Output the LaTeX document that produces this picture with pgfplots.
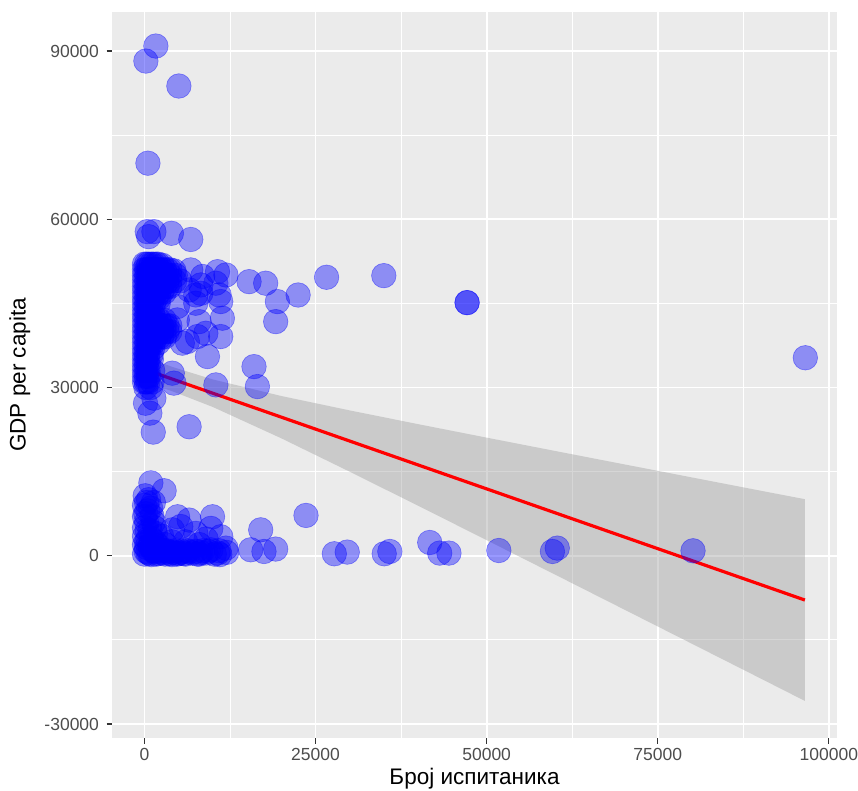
\documentclass[border=0pt]{standalone}
\usepackage{fontspec}
\setmainfont{Liberation Sans}
\usepackage{pgfplots}
\pgfplotsset{compat=1.18}
\definecolor{panelbg}{HTML}{EBEBEB}
\definecolor{grey30}{HTML}{4D4D4D}
\definecolor{grey20}{HTML}{333333}
\definecolor{grey60}{HTML}{999999}
\begin{document}
\begin{tikzpicture}
\begin{axis}[
  scale only axis, width=725pt, height=726pt,
  xmin=-4750, xmax=101200, ymin=-32490, ymax=96960,
  scaled ticks=false,
  axis background/.style={fill=panelbg},
  axis line style={draw=none},
  grid=both,
  major grid style={white, line width=1.7pt},
  minor grid style={white, line width=0.85pt},
  xtick={0,25000,50000,75000,100000},
  xticklabels={0,25000,50000,75000,100000},
  ytick={-30000,0,30000,60000,90000},
  yticklabels={-30000,0,30000,60000,90000},
  minor xtick={12500,37500,62500,87500},
  minor ytick={-15000,15000,45000,75000},
  minor tick length=0pt,
  tick align=outside, major tick length=5.5pt,
  tick style={grey20, line width=1.1pt},
  xtick pos=bottom, ytick pos=left,
  ticklabel style={font=\fontsize{17.5}{20}\selectfont, text=grey30},
  xticklabel style={yshift=-1.5pt},
  yticklabel style={xshift=-4pt},
  xlabel={Број испитаника}, ylabel={GDP per capita},
  label style={font=\fontsize{22.5}{26}\selectfont},
  xlabel style={at={(axis description cs:0.5,-0.0555)}, anchor=center},
  ylabel style={at={(axis description cs:-0.127,0.5)}, anchor=center},
  clip=true,
]
\addplot[only marks, mark=*, mark size=12.3pt,
  mark options={fill=blue, draw=blue, fill opacity=0.4, draw opacity=0.4, line width=0.6pt}]
coordinates {
(200,88210) (1660,90890) (5020,83760) (500,70000)
(400,57800) (1370,57800) (3930,57500) (6760,56400) (600,56900)
(0,52000) (600,52000) (1300,52000) (2000,52000) (300,52000) (1000,52000) (1700,52000) (2600,51800)
(0,51000) (600,51000) (1300,51000) (2100,51000) (2900,51000) (3700,51000) (300,51000) (1000,51000) (1700,51000) (2500,51000) (3300,51000) (4300,50800)
(0,50000) (600,50000) (1300,50000) (2100,50000) (2900,50000) (3700,50000) (4500,50000) (300,50000) (1000,50000) (1700,50000) (2500,50000) (3300,50000)
(0,49000) (600,49000) (1300,49000) (2100,49000) (2900,49000) (3700,49000) (5200,49000) (300,49000) (1000,49000) (1700,49000) (2500,49000) (3300,49000) (4400,49000)
(0,48000) (600,48000) (1300,48000) (2100,48000) (2900,48000) (3700,48000) (300,48000) (1000,48000) (1700,48000) (2500,48000) (3300,48000)
(0,47000) (600,47000) (1300,47000) (2100,47000) (2900,47000) (300,47000) (1000,47000) (1700,47000) (2500,47000)
(0,46000) (600,46000) (1300,46000) (2100,46000) (300,46000) (1000,46000) (1700,46000)
(0,45000) (600,45000) (1300,45000) (2000,45000) (300,45000) (1000,45000)
(0,44000) (600,44000) (1200,44000) (300,44000)
(0,43000) (600,43000) (1200,43000) (300,43000)
(0,42000) (600,42000) (1300,42000) (2100,42000) (2900,42000) (300,42000) (1000,42000) (1700,42000)
(0,41000) (600,41000) (1300,41000) (2100,41000) (2900,41000) (3700,41000) (300,41000) (1000,41000) (1700,41000) (2500,41000) (3300,41000)
(0,40000) (600,40000) (1300,40000) (2100,40000) (2900,40000) (3700,40000) (300,40000) (1000,40000) (1700,40000) (2500,40000) (3300,40000)
(0,39000) (600,39000) (1300,39000) (2100,39000) (2900,39000) (300,39000) (1000,39000) (1700,39000) (2500,39000)
(0,38000) (600,38000) (1300,38000) (2000,38000) (300,38000) (1000,38000)
(0,37000) (600,37000) (1200,37000) (300,37000)
(0,36000) (500,36000) (1000,36000) (250,36000)
(0,35000) (500,35000) (1000,35000) (250,35000)
(0,34000) (600,34000) (300,34000)
(0,33000) (500,33000) (1200,33000) (250,33000)
(0,32000) (600,32000) (300,32000)
(0,31000) (500,31000) (1100,31000) (250,31000)
(200,30000) (900,30000)
(150,27200) (1370,28100) (780,25430) (1280,22050) (6520,23010)
(6760,50970) (8500,49800) (10670,50660) (11900,50070)
(15280,48880) (17710,48600) (19420,45320) (22450,46500) (19170,41750)
(8230,48290) (10900,46510) (7490,46510) (4800,42050) (7980,41750)
(11380,42360) (11140,39090) (9200,35520) (7740,39090) (5530,37910)
(16000,33730) (16500,30170) (10430,30470) (4060,32560) (4300,30780)
(6530,47400) (8230,46800) (7490,45030) (4800,44440) (10430,48600)
(11140,45330) (8960,39680) (6270,38200)
(26610,49660) (34970,49950) (47140,45140) (47140,45140)
(96570,35310)
(930,13000) (2870,11600) (100,10700)
(600,10000) (1300,9500) (0,9000) (500,8000) (1100,7000) (0,7000)
(300,6000) (1300,6000) (0,5000) (800,4500) (1600,4000) (0,3500)
(500,3000) (1500,2500) (0,2000) (800,1800) (2500,3500) (3000,2000)
(300,9500) (900,8500) (200,7500) (1500,5000) (400,4500) (1000,3000) (2000,1800) (300,2500)
(4000,2500) (6000,2500) (8000,2000) (9000,3000)
(4830,6960) (6520,6370) (9940,6960) (9690,4890) (7500,4000) (11150,3400)
(4080,4630) (5300,5220) (16980,4630)
(0,300) (500,600) (1000,200) (1500,800) (2000,400) (2500,1000) (3000,300)
(3500,700) (4000,200) (4500,900) (5000,400) (5500,800) (6000,300)
(6500,700) (7000,500) (8000,300) (8500,900) (9000,500) (9700,1070)
(10700,480) (11900,1370) (11000,200) (12000,600)
(250,800) (750,400) (1250,900) (1750,300) (2250,700) (2750,500) (3250,900)
(3750,400) (4250,600) (4750,300) (5250,600) (5750,400) (6250,900) (7500,800)
(7700,300) (8200,600) (9300,800) (10200,300) (10900,900) (300,1500) (1200,1600)
(15520,1070) (17460,770) (19170,1200)
(23600,7200)
(27740,360) (29630,660) (35030,360) (35850,770) (41680,2370)
(43140,480) (44490,480) (51780,940) (59610,770) (60320,1370) (80160,890)
};
\addplot[draw=none, fill=grey60, fill opacity=0.4] coordinates {
(156,35463) (4000,33700) (10000,31434) (20000,28488) (30000,25919)
(40000,23468) (50000,21067) (60000,18690) (70000,16327) (80000,13969)
(90000,11613) (96500,10093)
(96500,-25873) (90000,-21853) (80000,-15683) (70000,-9517) (60000,-3356)
(50000,2791) (40000,8914) (30000,14987) (20000,20944) (10000,26522)
(4000,29370) (156,30885)
} -- cycle;
\addplot[red, line width=3.2pt] coordinates {(156,33174) (96500,-7890)};
\end{axis}
\pgfresetboundingbox
\path ([shift={(-112pt,-52pt)}]current axis.south west) rectangle ([shift={(21pt,12pt)}]current axis.north east);
\end{tikzpicture}
\end{document}
